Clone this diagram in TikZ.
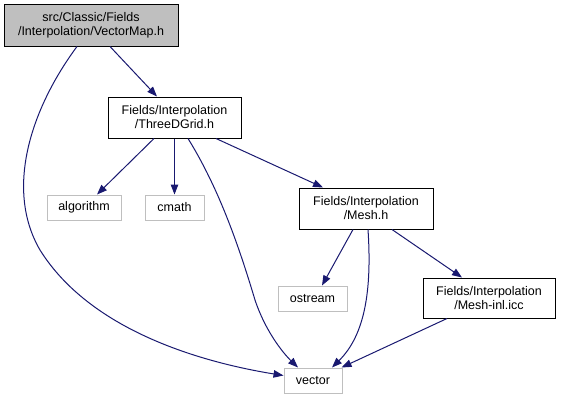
\documentclass[tikz,border=0pt]{standalone}
\usepackage{fontspec}
\setmainfont{Liberation Sans}
\usetikzlibrary{arrows.meta}
\definecolor{edgeblue}{HTML}{191970}
\definecolor{boxgray}{HTML}{BFBFBF}
\tikzset{
  box/.style={rectangle, draw=black, line width=1pt, align=center, inner sep=0pt,
    font=\fontsize{12.5}{14}\selectfont},
  sysbox/.style={box, draw=boxgray},
  rootbox/.style={box, fill=boxgray},
  dep/.style={draw=edgeblue, line width=1pt, -{Triangle[length=10pt,width=7.5pt]}},
}
\begin{document}
\begin{tikzpicture}[x=1pt,y=-1pt]
\useasboundingbox (0,0) rectangle (561,400);
\node[rootbox, minimum width=174pt, minimum height=42pt] (root) at (91,25) {src/Classic/Fields\\/Interpolation/VectorMap.h};
\node[box, minimum width=133pt, minimum height=41pt] (tdg) at (174.5,117.5) {Fields/Interpolation\\/ThreeDGrid.h};
\node[sysbox, minimum width=74pt, minimum height=25pt] (alg) at (84,207.5) {algorithm};
\node[sysbox, minimum width=59pt, minimum height=25pt] (cmath) at (174.5,207.5) {cmath};
\node[box, minimum width=134pt, minimum height=41pt] (mesh) at (366,208.5) {Fields/Interpolation\\/Mesh.h};
\node[sysbox, minimum width=69pt, minimum height=25pt] (ostream) at (312.5,298.5) {ostream};
\node[box, minimum width=132pt, minimum height=40pt] (meshinl) at (489,298) {Fields/Interpolation\\/Mesh-inl.icc};
\node[sysbox, minimum width=58pt, minimum height=25pt] (vector) at (313,380.5) {vector};

\draw[dep] ([xshift=19pt]root.south) -- ([xshift=-17.5pt]tdg.north);
\draw[dep] ([xshift=-14pt]root.south) .. controls (30,110) and (5,190) .. (40,250)
  .. controls (90,330) and (200,362) .. ([yshift=5pt]vector.west);
\draw[dep] ([xshift=-20.5pt]tdg.south) -- ([xshift=13pt]alg.north);
\draw[dep] (tdg.south) -- (cmath.north);
\draw[dep] ([xshift=13.5pt]tdg.south) .. controls (220,190) and (240,250) .. (255,300)
  .. controls (265,330) and (282,352) .. ([xshift=-15pt]vector.north);
\draw[dep] ([xshift=41.5pt]tdg.south) -- ([xshift=-43pt]mesh.north);
\draw[dep] ([xshift=-13pt]mesh.south) -- ([xshift=9.5pt]ostream.north);
\draw[dep] ([xshift=2pt]mesh.south) .. controls (372,290) and (365,335) .. ([xshift=19pt]vector.north);
\draw[dep] ([xshift=26pt]mesh.south) -- ([xshift=-27pt]meshinl.north);
\draw[dep] ([xshift=-42pt]meshinl.south) -- ([xshift=-1pt]vector.north east);
\end{tikzpicture}
\end{document}
